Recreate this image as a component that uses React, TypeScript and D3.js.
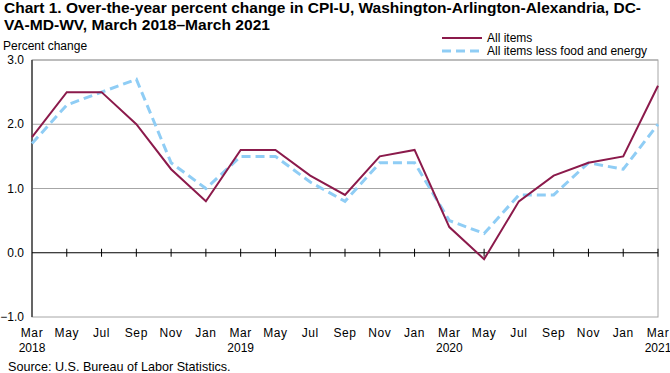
import React, { useEffect, useRef } from 'react';
import * as d3 from 'd3';

const months = ['Mar', 'May', 'Jul', 'Sep', 'Nov', 'Jan', 'Mar', 'May', 'Jul', 'Sep', 'Nov', 'Jan', 'Mar', 'May', 'Jul', 'Sep', 'Nov', 'Jan', 'Mar'];
const years = ['2018', '', '', '', '', '', '2019', '', '', '', '', '', '2020', '', '', '', '', '', '2021'];
const allItems = [1.8, 2.5, 2.5, 2.0, 1.3, 0.8, 1.6, 1.6, 1.2, 0.9, 1.5, 1.6, 0.4, -0.1, 0.8, 1.2, 1.4, 1.5, 2.6];
const coreItems = [1.7, 2.3, 2.5, 2.7, 1.4, 1.0, 1.5, 1.5, 1.1, 0.8, 1.4, 1.4, 0.5, 0.3, 0.9, 0.9, 1.4, 1.3, 2.0];
const yTicks = [-1, 0, 1, 2, 3];

const FONT = '"Liberation Sans Narrow", "Arial Narrow", "Liberation Sans", Arial, sans-serif';

const App = () => {
  const ref = useRef<SVGSVGElement>(null);

  useEffect(() => {
    const svg = d3.select(ref.current);
    svg.selectAll('*').remove();

    const width = 670, height = 373;
    const left = 32, right = 658, top = 60, bottom = 317;

    const x = d3.scaleLinear().domain([0, months.length - 1]).range([left, right]);
    const y = d3.scaleLinear().domain([-1, 3]).range([bottom, top]);

    svg.attr('width', width).attr('height', height)
      .style('font-family', FONT);

    // Title
    svg.append('text')
      .attr('x', 4).attr('y', 13)
      .attr('font-size', 15).attr('font-weight', 'bold').attr('fill', '#000')
      .attr('textLength', 637).attr('lengthAdjust', 'spacingAndGlyphs')
      .text('Chart 1. Over-the-year percent change in CPI-U, Washington-Arlington-Alexandria, DC-');
    svg.append('text')
      .attr('x', 4).attr('y', 30)
      .attr('font-size', 15).attr('font-weight', 'bold').attr('fill', '#000')
      .attr('textLength', 266).attr('lengthAdjust', 'spacingAndGlyphs')
      .text('VA-MD-WV, March 2018\u2013March 2021');

    svg.append('text')
      .attr('x', 3).attr('y', 50)
      .attr('font-size', 12).attr('fill', '#000')
      .text('Percent change');

    // frame
    svg.append('rect')
      .attr('x', left).attr('y', top)
      .attr('width', right - left).attr('height', bottom - top)
      .attr('fill', 'none').attr('stroke', '#a6a6a6').attr('stroke-width', 1);

    // gridlines
    svg.append('g')
      .selectAll('line')
      .data(yTicks.filter(d => d > 0))
      .join('line')
      .attr('x1', left).attr('x2', right)
      .attr('y1', d => y(d)).attr('y2', d => y(d))
      .attr('stroke', '#a6a6a6').attr('stroke-width', 1);

    // y axis
    svg.append('line')
      .attr('x1', left).attr('x2', left)
      .attr('y1', top).attr('y2', bottom)
      .attr('stroke', '#404040').attr('stroke-width', 1.5);

    svg.append('g')
      .selectAll('text')
      .data(yTicks)
      .join('text')
      .attr('x', 24)
      .attr('y', d => y(d) + 4)
      .attr('text-anchor', 'end')
      .attr('font-size', 12).attr('fill', '#000')
      .text(d => d3.format('.1f')(d));

    // zero line with ticks
    svg.append('line')
      .attr('x1', left).attr('x2', right)
      .attr('y1', y(0)).attr('y2', y(0))
      .attr('stroke', '#000').attr('stroke-width', 1.2);

    svg.append('g')
      .selectAll('line')
      .data(months.map((_, i) => i).slice(1))
      .join('line')
      .attr('x1', d => x(d)).attr('x2', d => x(d))
      .attr('y1', y(0) - 4).attr('y2', y(0) + 4)
      .attr('stroke', '#000').attr('stroke-width', 1);

    // x labels
    svg.append('g')
      .selectAll('text')
      .data(months)
      .join('text')
      .attr('x', (_, i) => x(i))
      .attr('y', 337)
      .attr('text-anchor', 'middle')
      .attr('font-size', 12).attr('letter-spacing', 0.6).attr('fill', '#000')
      .text(d => d);

    svg.append('g')
      .selectAll('text')
      .data(years)
      .join('text')
      .attr('x', (_, i) => x(i))
      .attr('y', 352)
      .attr('text-anchor', 'middle')
      .attr('font-size', 12).attr('fill', '#000')
      .text(d => d);

    const line = d3.line<number>()
      .x((_, i) => x(i))
      .y(d => y(d));

    svg.append('path')
      .datum(coreItems)
      .attr('d', line)
      .attr('fill', 'none')
      .attr('stroke', '#8fcdf5')
      .attr('stroke-width', 3)
      .attr('stroke-dasharray', '9,5');

    svg.append('path')
      .datum(allItems)
      .attr('d', line)
      .attr('fill', 'none')
      .attr('stroke', '#8b1a4b')
      .attr('stroke-width', 2);

    // legend
    const legend = svg.append('g');
    legend.append('line')
      .attr('x1', 442).attr('x2', 482).attr('y1', 38).attr('y2', 38)
      .attr('stroke', '#8b1a4b').attr('stroke-width', 2);
    legend.append('text')
      .attr('x', 487).attr('y', 42)
      .attr('font-size', 12).attr('fill', '#000')
      .text('All items');
    legend.append('line')
      .attr('x1', 442).attr('x2', 482).attr('y1', 51).attr('y2', 51)
      .attr('stroke', '#8fcdf5').attr('stroke-width', 3).attr('stroke-dasharray', '9,5');
    legend.append('text')
      .attr('x', 487).attr('y', 55)
      .attr('font-size', 12).attr('fill', '#000')
      .text('All items less food and energy');

    svg.append('text')
      .attr('x', 8).attr('y', 371)
      .attr('font-size', 12.6).attr('fill', '#000')
      .text('Source: U.S. Bureau of Labor Statistics.');
  }, []);

  return <svg ref={ref} style={{ position: 'absolute', left: 0, top: 0 }}></svg>;
};

export default App;
